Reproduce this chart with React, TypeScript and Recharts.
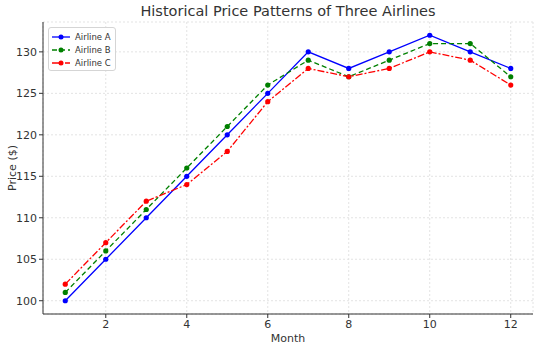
import { LineChart, Line, XAxis, YAxis, CartesianGrid } from "recharts";

const months = [1, 2, 3, 4, 5, 6, 7, 8, 9, 10, 11, 12];
const airlineA = [100, 105, 110, 115, 120, 125, 130, 128, 130, 132, 130, 128];
const airlineB = [101, 106, 111, 116, 121, 126, 129, 127, 129, 131, 131, 127];
const airlineC = [102, 107, 112, 114, 118, 124, 128, 127, 128, 130, 129, 126];
const xTicks = [2, 4, 6, 8, 10, 12];
const yTicks = [100, 105, 110, 115, 120, 125, 130];

const data = months.map((m, i) => ({
  month: m,
  a: airlineA[i],
  b: airlineB[i],
  c: airlineC[i],
}));

const series = [
  { key: "a", name: "Airline A", color: "#0000ff", dash: undefined },
  { key: "b", name: "Airline B", color: "#008000", dash: "5 3" },
  { key: "c", name: "Airline C", color: "#ff0000", dash: "7 2 2 2" },
];

const font = "DejaVu Sans, sans-serif";

function LegendBox() {
  return (
    <div
      style={{
        position: "absolute",
        left: 48,
        top: 27,
        border: "1px solid #d5d5d5",
        borderRadius: 3,
        background: "rgba(255,255,255,0.85)",
        padding: "2px 4px 1px 3px",
        fontFamily: font,
        fontSize: 8.5,
        color: "#333",
      }}
    >
      {series.map((s) => (
        <div key={s.key} style={{ display: "flex", alignItems: "center", height: 13 }}>
          <svg width={18} height={8} style={{ marginRight: 5 }}>
            <line x1={0} y1={4} x2={18} y2={4} stroke={s.color} strokeWidth={1.3} strokeDasharray={s.dash} />
            <circle cx={9} cy={4} r={2.5} fill={s.color} />
          </svg>
          {s.name}
        </div>
      ))}
    </div>
  );
}

export default function App() {
  return (
    <div style={{ position: "absolute", left: 0, top: 0, width: 540, height: 348, background: "#fff" }}>
      <div
        style={{
          position: "absolute",
          top: 3,
          left: 43,
          width: 490,
          textAlign: "center",
          fontFamily: font,
          fontSize: 14.5,
          color: "#333",
        }}
      >
        Historical Price Patterns of Three Airlines
      </div>
      <LineChart width={540} height={348} data={data} margin={{ top: 22, right: 7, bottom: 0, left: 0 }}>
        <CartesianGrid stroke="#e3e3e3" strokeDasharray="2 2" />
        <XAxis
          dataKey="month"
          type="number"
          domain={[0.45, 12.55]}
          ticks={xTicks}
          allowDataOverflow
          height={34}
          tickSize={4}
          stroke="#333"
          tick={{ fill: "#333", fontSize: 11, fontFamily: font }}
          label={{ value: "Month", position: "insideBottom", offset: 6, fill: "#333", fontSize: 11, fontFamily: font }}
        />
        <YAxis
          type="number"
          domain={[98.4, 133.6]}
          ticks={yTicks}
          allowDataOverflow
          width={43}
          tickSize={4}
          stroke="#333"
          tick={{ fill: "#333", fontSize: 11, fontFamily: font }}
          label={{
            value: "Price ($)",
            angle: -90,
            position: "insideLeft",
            offset: 12,
            style: { textAnchor: "middle" },
            fill: "#333",
            fontSize: 11,
            fontFamily: font,
          }}
        />
        {series.map((s) => (
          <Line
            key={s.key}
            dataKey={s.key}
            name={s.name}
            stroke={s.color}
            strokeWidth={1.3}
            strokeDasharray={s.dash}
            dot={{ r: 2.6, fill: s.color, stroke: s.color, strokeWidth: 0, strokeDasharray: "" }}
            activeDot={false}
            type="linear"
            isAnimationActive={false}
          />
        ))}
      </LineChart>
      <LegendBox />
    </div>
  );
}
